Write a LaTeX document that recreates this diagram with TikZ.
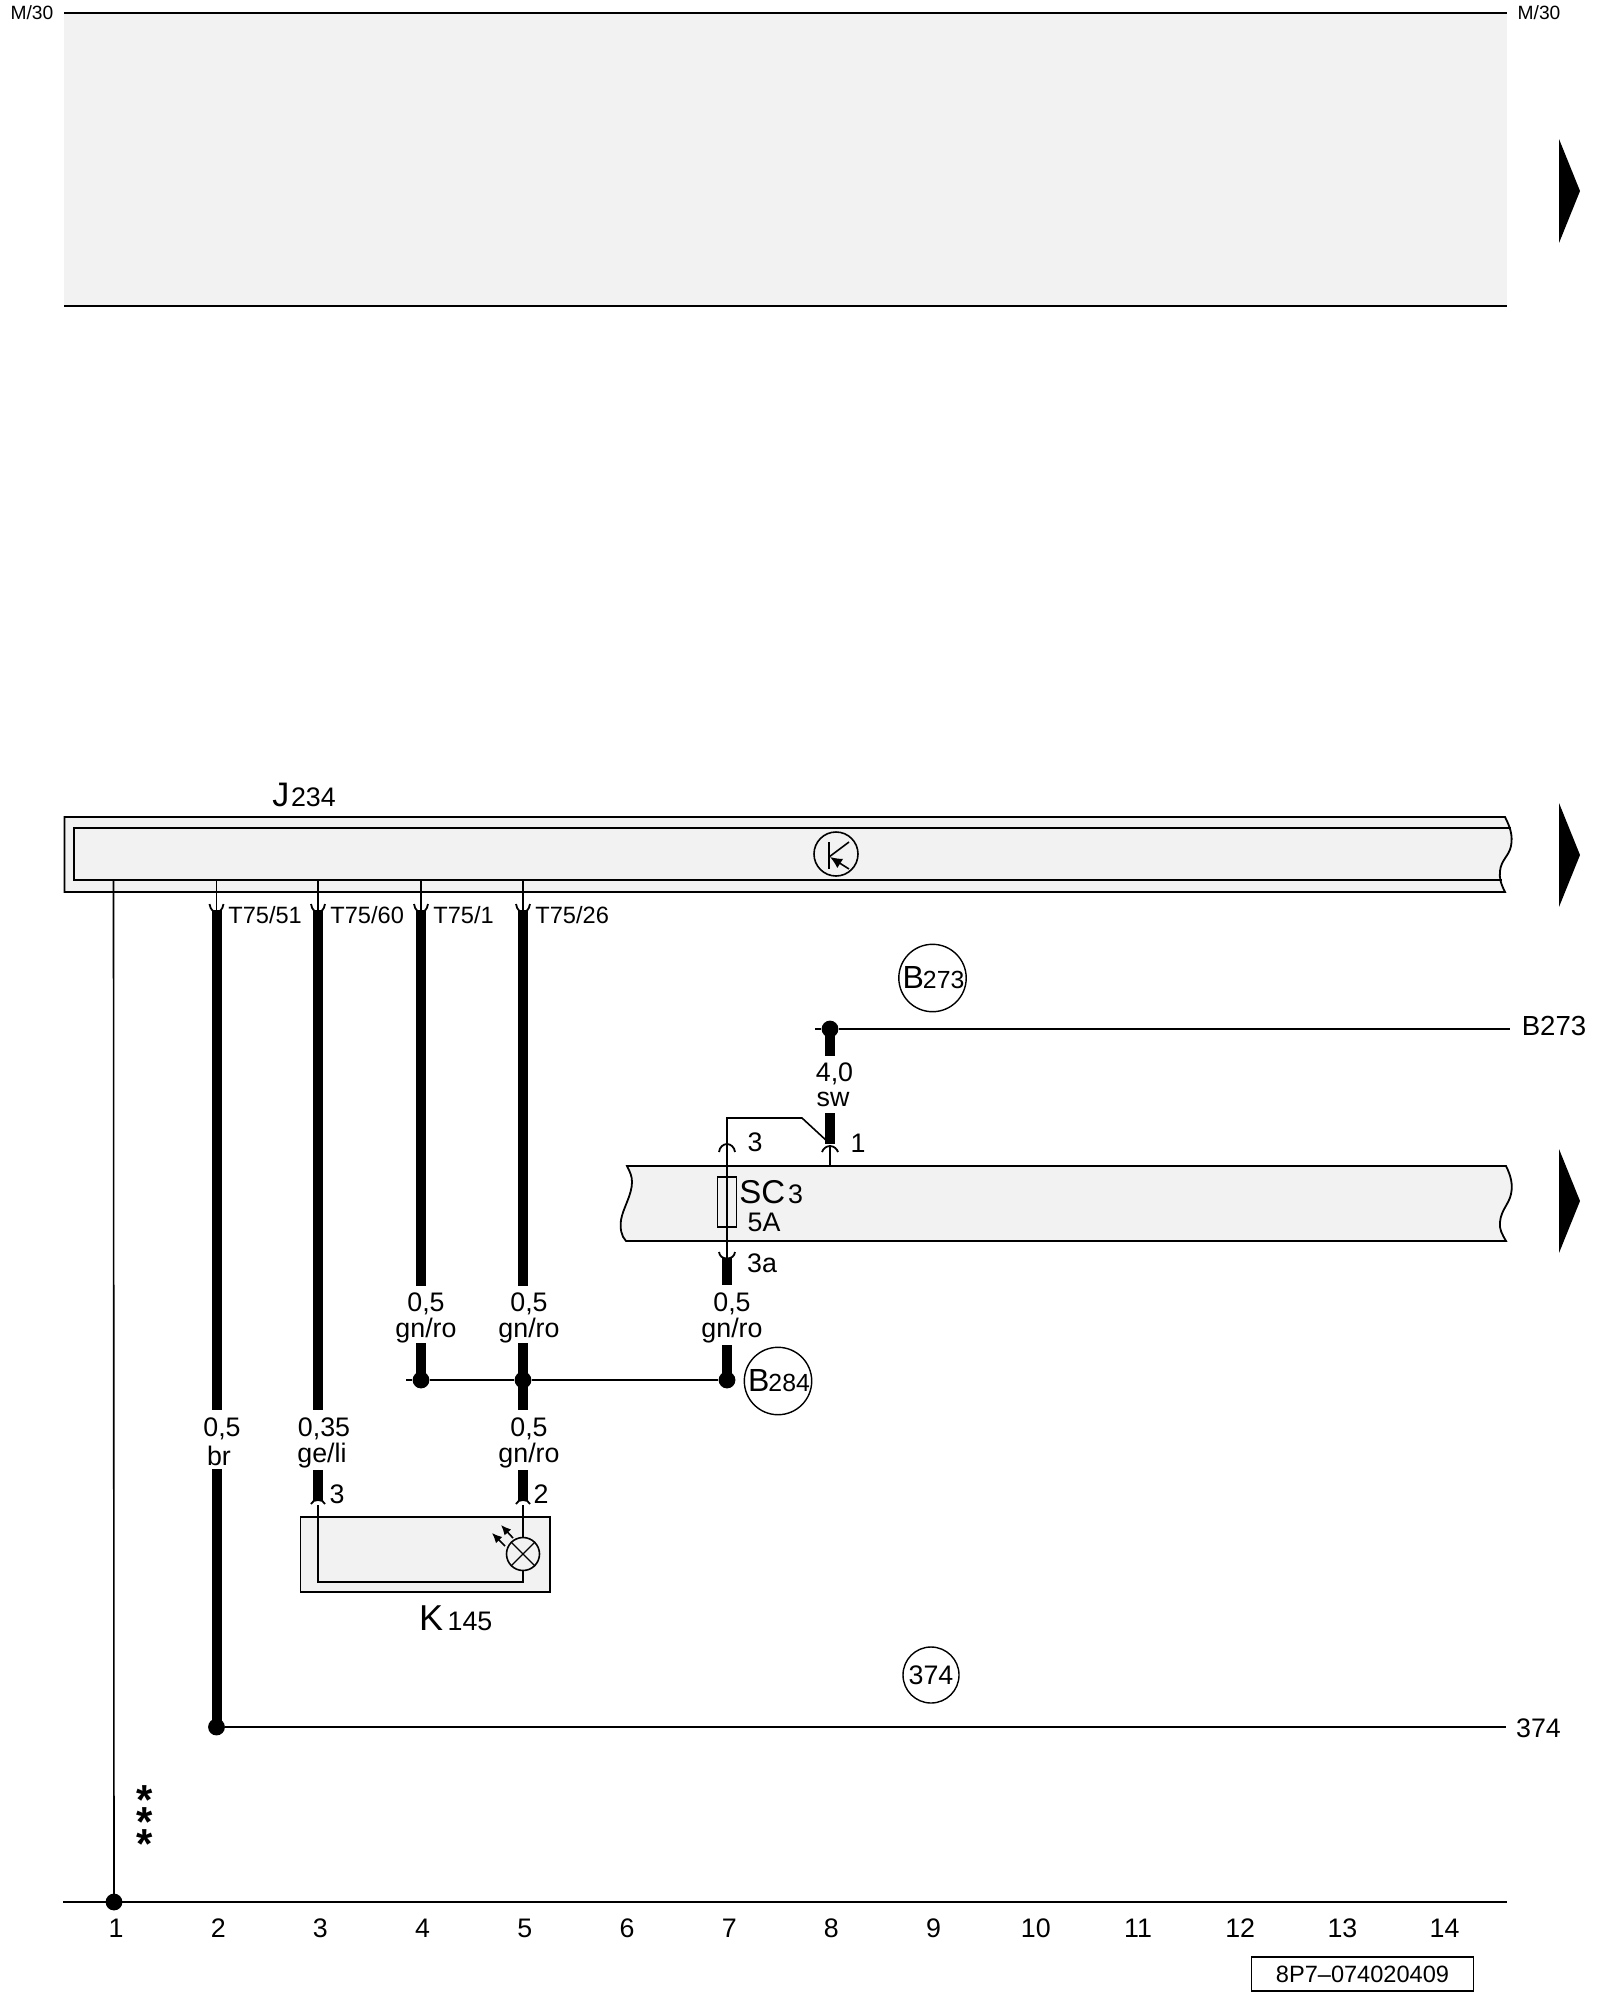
\documentclass[tikz,border=0pt]{standalone}
\usepackage{fontspec}
\setmainfont{Liberation Sans}
\usetikzlibrary{arrows.meta}
\definecolor{pale}{HTML}{F2F2F2}
\newcommand{\bigf}{\fontsize{17}{18}\selectfont}
\newcommand{\midf}{\fontsize{13.4}{15}\selectfont}
\tikzset{
  thin wire/.style={line width=0.8pt,black},
  rail/.style={line width=0.9pt,black},
  thick wire/.style={line width=5pt,black},
  panel/.style={line width=0.9pt,draw=black,fill=pale},
  dotnode/.style={circle,fill=black,inner sep=0pt,minimum size=8.4pt},
  txt/.style={inner sep=0pt,font=\midf,align=center},
  pin txt/.style={inner sep=0pt,font=\fontsize{11.8}{14}\selectfont},
  small txt/.style={inner sep=0pt,font=\fontsize{9.6}{11}\selectfont},
  tag/.style={circle,draw=black,line width=0.7pt,inner sep=0pt,minimum size=33pt,font=\midf},
  mark tri/.style={fill=black,draw=none},
  cup/.style={line width=0.9pt,black},
  star/.style={inner sep=0pt,text height=6pt,text depth=0pt,font=\bfseries\fontsize{21}{21}\selectfont},
}
\begin{document}
\begin{tikzpicture}[x=0.5pt,y=-0.5pt]
\useasboundingbox (0,0) rectangle (1600,2000);
\fill[white] (0,0) rectangle (1600,2000);

% top band
\fill[pale] (64,13) rectangle (1507,306);
\draw[rail] (64,13) -- (1507,13);
\draw[rail] (64,306) -- (1507,306);
\node[small txt] (mL) at (32,13) {M/30};
\node[small txt] (mR) at (1539,13) {M/30};

% page markers
\foreach \yy in {191,855,1201}
  \fill[mark tri] (1559,\yy-52) -- (1580,\yy) -- (1559,\yy+52) -- cycle;

% J234 housing
\draw[panel] (1505,817) -- (64.5,817) -- (64.5,892) -- (1505,892)
  .. controls (1501,884) and (1499,878) .. (1500,871)
  .. controls (1501,860) and (1509,856) .. (1511,846)
  .. controls (1513,835) and (1510,827) .. (1505,817) -- cycle;
\draw[panel,fill=none] (1511,828) -- (74,828) -- (74,880) -- (1502,880);
\node[inner sep=0pt,anchor=base west] (jJ) at (272,806) {{\bigf J}\hspace{0.8pt}{\midf 234}};

% transistor symbol
\node[circle,draw=black,line width=0.8pt,minimum size=22pt,inner sep=0pt] (tr) at (836,854) {};
\draw[line width=0.8pt] (829,842) -- (829,869);
\draw[line width=0.8pt] (829,857) -- (849,842);
\draw[line width=0.8pt,{Latex[length=6pt,width=5.5pt]}-] (830,857) -- (849,869);

% junction nodes
\node[dotnode] (d1) at (114,1902) {};
\node[dotnode] (d2) at (216.5,1727) {};
\node[dotnode] (d4) at (421,1380) {};
\node[dotnode] (d5) at (523,1380) {};
\node[dotnode] (d7) at (727,1380) {};
\node[dotnode] (d8) at (830,1029) {};
\coordinate (ltop) at (113.5,880);
\coordinate (endB) at (1510,1029);
\coordinate (stubB) at (815,1029);
\coordinate (end374) at (1506,1727);
\coordinate (stub4) at (406,1380);

% frame rail
\draw[rail] (63,1902) -- (1507,1902);
\draw[thin wire] (ltop) -- (d1.center);

% thin horizontals
\draw[thin wire] (stubB) -- (d8) -- (endB);
\draw[thin wire] (stub4) -- (d4) -- (d5) -- (d7);
\draw[thin wire] (d2) -- (end374);

% thick wires
\foreach \xx/\a/\b in {216.5/909/1410, 216.5/1469/1727, 318/909/1410, 318/1470/1500,
   421/909/1286, 421/1343/1380, 523/909/1286, 523/1343/1410, 523/1470/1500,
   727/1258/1285, 727/1345/1380, 830/1029/1056, 830/1113/1144}
  \draw[thick wire] (\xx,\a) -- (\xx,\b);

% pin cups at J234
\foreach \xx in {216.5,318,421,523}{
  \draw[thin wire] (\xx,880) -- (\xx,910);
  \fill[white] (\xx-4.5,903) rectangle (\xx+4.5,909.5);
  \draw[thin wire] (\xx,900) -- (\xx,910);
  \draw[cup] (\xx-7,904) .. controls (\xx-6,910) and (\xx-3,912) .. (\xx,912)
     .. controls (\xx+3,912) and (\xx+6,910) .. (\xx+7,904);
}

% SC fuse panel
\draw[panel] (627,1166) -- (1506,1166)
  .. controls (1511,1176) and (1513,1185) .. (1511,1194)
  .. controls (1509,1204) and (1501,1210) .. (1500,1222)
  .. controls (1499,1229) and (1502,1234) .. (1506,1241)
  -- (626,1241)
  .. controls (621,1236) and (620,1228) .. (621,1220)
  .. controls (623,1208) and (632,1195) .. (632,1182)
  .. controls (632,1176) and (630,1172) .. (627,1166) -- cycle;
\node[draw=black,line width=0.7pt,fill=pale,minimum width=9.5pt,minimum height=25pt,inner sep=0pt] (fuse) at (727,1202) {};
\coordinate (upperA) at (727,1118);
\coordinate (upperB) at (802,1118);
\coordinate (upperC) at (828,1142);
\coordinate (lowerA) at (727,1259);
\coordinate (pin8) at (830,1146);
\coordinate (pin8b) at (830,1166);
\draw[thin wire] (lowerA) -- (upperA) -- (upperB) -- (upperC);
\draw[thin wire] (pin8) -- (pin8b);

% pin arcs near fuse panel
\draw[cup] (719,1152) .. controls (719.5,1147) and (723.5,1144) .. (727,1144)
  .. controls (730.5,1144) and (734.5,1147) .. (735,1152);
\draw[cup] (822,1152) .. controls (823,1149) and (826,1146) .. (830,1146)
  .. controls (834,1146) and (837,1149) .. (838,1152);
\fill[white] (722.5,1252) rectangle (731.5,1257);
\draw[thin wire] (727,1241) -- (727,1258);
\draw[cup] (719,1252) .. controls (719.5,1256) and (722.5,1258.5) .. (727,1258.5)
  .. controls (731.5,1258.5) and (734.5,1256) .. (735,1252);

\node[inner sep=0pt,font=\fontsize{16.5}{18}\selectfont,anchor=base west] (sc) at (739,1203) {SC};
\node[txt,anchor=base] (sc3) at (795.5,1203) {3};
\node[txt] (sc5) at (764,1222) {5A};
\node[txt] (p3) at (755,1142) {3};
\node[txt] (p1) at (858,1143) {1};
\node[txt] (p3a) at (762,1263) {3a};

% K145
\draw[panel] (300.5,1517) rectangle (550,1592);
\node[circle,draw=black,line width=0.8pt,fill=pale,minimum size=16.5pt,inner sep=0pt] (lamp) at (523,1554) {};
\draw[line width=0.6pt] (lamp.north west) -- (lamp.south east);
\draw[line width=0.6pt] (lamp.north east) -- (lamp.south west);
\coordinate (kA) at (318,1505);
\coordinate (kB) at (318,1582);
\coordinate (kC) at (523,1582);
\coordinate (kD) at (523,1505);
\draw[thin wire] (kA) -- (kB) -- (kC) -- (lamp.south);
\draw[thin wire] (lamp.north) -- (kD);
\foreach \xx in {318,523}{
  \draw[cup] (\xx-7,1504) .. controls (\xx-6,1501) and (\xx-3,1500) .. (\xx,1500)
    .. controls (\xx+3,1500) and (\xx+6,1501) .. (\xx+7,1504);
}
\draw[line width=0.8pt,-{Latex[length=5pt,width=4.5pt]}] (513,1538) -- (501,1525);
\draw[line width=0.8pt,-{Latex[length=5pt,width=4.5pt]}] (505,1546) -- (492,1533);
\node[inner sep=0pt,font=\fontsize{18}{20}\selectfont,anchor=base] (kK) at (431,1630) {K};
\node[txt,anchor=base] (k145) at (470,1630) {145};
\node[txt] (p3k) at (337,1494) {3};
\node[txt] (p2k) at (541,1494) {2};

% pin names
\node[pin txt,anchor=west] (t51) at (228,915) {T75/51};
\node[pin txt,anchor=west] (t60) at (330,915) {T75/60};
\node[pin txt,anchor=west] (t1)  at (433,915) {T75/1};
\node[pin txt,anchor=west] (t26) at (535,915) {T75/26};

% wire labels
\node[txt] (w2a) at (222,1429) {0,5};
\node[txt] (w2b) at (219,1456) {br};
\node[txt] (w3a) at (324,1429) {0,35};
\node[txt] (w3b) at (322,1456) {ge/li};
\node[txt] (w5a) at (529,1429) {0,5};
\node[txt] (w5b) at (529,1456) {gn/ro};
\node[txt] (w4a) at (426,1304) {0,5};
\node[txt] (w4b) at (426,1331) {gn/ro};
\node[txt] (w6a) at (529,1304) {0,5};
\node[txt] (w6b) at (529,1331) {gn/ro};
\node[txt] (w7a) at (732,1304) {0,5};
\node[txt] (w7b) at (732,1331) {gn/ro};
\node[txt] (w8a) at (834.5,1074) {4,0};
\node[txt] (w8b) at (833,1099) {sw};

% tags
\node[tag] (tB273) at (932.5,978) {\hspace{1pt}{\fontsize{16}{18}\selectfont B}{\fontsize{12.4}{14}\selectfont\hspace{-0.5pt}273}};
\node[tag] (tB284) at (778,1381) {\hspace{1pt}{\fontsize{16}{18}\selectfont B}{\fontsize{12.4}{14}\selectfont\hspace{-0.5pt}284}};
\node[tag,minimum size=28pt] (t374) at (931,1675) {374};

% end labels
\node[txt,font=\fontsize{13.8}{15}\selectfont] (lB) at (1554,1026) {B273};
\node[txt] (l374) at (1538.5,1728) {374};

% asterisks
\node[star] (s1) at (145,1808) {*};
\node[star] (s2) at (145,1830) {*};
\node[star] (s3) at (145,1852) {*};

% column numbers
\foreach \n in {1,...,14}
  \node[txt] (n\n) at ({116+102.2*(\n-1)},1928) {\n};

% stamp
\node[draw=black,line width=0.7pt,minimum width=111pt,minimum height=17pt,inner sep=0pt,font=\fontsize{11.8}{14}\selectfont] (stamp) at (1362.5,1974) {8P7–074020409};
\end{tikzpicture}
\end{document}
